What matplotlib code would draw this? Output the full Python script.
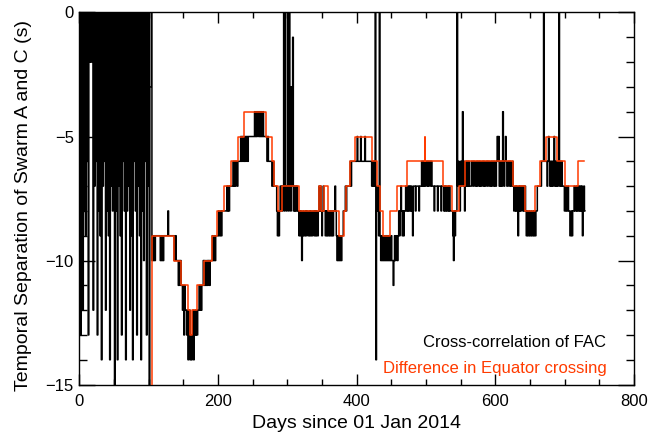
import numpy as np
import matplotlib
matplotlib.use("Agg")
import matplotlib.pyplot as plt
from matplotlib.ticker import MultipleLocator

plt.rcParams['font.family'] = ['Liberation Sans', 'DejaVu Sans']

# ---------------- data ----------------
# Difference in Equator crossing: run-length (start day, level), ends at day 728
orange_start = [104, 105, 137, 146, 156, 160, 163, 170, 179, 191,
                199, 209, 219, 228, 237, 269, 278, 281, 286, 292,
                316, 345, 348, 353, 358, 374, 381, 385, 390, 397,
                422, 429, 434, 438, 448, 458, 472, 498, 499, 525,
                537, 547, 556, 626, 643, 657, 665, 673, 689, 700, 719]
orange_level = [-16, -9, -10, -11, -12, -13, -12, -11, -10, -9,
                -8, -7, -6, -5, -4, -5, -6, -7, -8, -7,
                -8, -7, -8, -7, -8, -9, -8, -7, -6, -5,
                -6, -7, -8, -9, -8, -7, -6, -5, -6, -7,
                -8, -7, -6, -7, -8, -7, -6, -5, -6, -7, -6]
orange_end = 728

# Cross-correlation of FAC: daily values, in segments (start day, values)
blk_000 = [-3, 2, -13, -8, 2, -12, 2, -8, 2, -9,
           2, -6, 2, -13, 2, -2, 2, -2, -2, 2,
           -12, 2, -7, 2, -6, 2, -13, 2, -8, 2,
           -9, 2, -14, 2, -7, 2, -6, 2, -12, 2,
           -8, 2, -9, 2, -14, 2, -7, 2, -8, 2,
           -5, -17, 2, -8, 2, -14, 2, -7, 2, -9,
           2, -13, 2, -6, 2, -8, 2, -14, 2, -8,
           2, -7, 2, -12, 2, -9, 2, -14, 2, -6,
           2, -8, 2, -13, 2, -7, 2, -9, 2, -14,
           2, -8, 2, -10, 2, -6, 2, -13, 2, -7,
           2, -17, -3, -3, 2]
blk_105 = [-10, -9, -10, -9, -10, -9, -9, -9, -9, -9, -9, -9, -10, -10, -9, -10,
           -10, -9, -9, -9, -9, -9, -9, -8, -9, -9, -9, -9, -9, -9, -9, -9]
blk_137 = [-10, -10, -9, -10, -10, -10, -11, -10, -11, -10, -11, -11,
           -12, -11, -13, -11, -12, -12, -13, -12, -14, -13, -12, -14,
           -13, -14, -13, -12, -14, -13, -12, -13, -12, -13, -12, -12,
           -11, -12, -11, -12, -11]
blk_178 = [-11, -10, -11, -10, -11, -11, -10, -11, -10, -10, -11, -10,
           -10, -10, -9, -10, -10, -9, -10, -9, -9, -9,
           -9, -8, -9, -9, -8, -9, -8, -8, -8, -8, -8, -8,
           -8, -7, -8, -7, -8, -7, -7, -7]
blk_220 = [-7, -7, -6, -7, -6, -7, -6, -6, -7, -6, -6, -6, -6, -5, -6, -5,
           -6, -5, -6, -5, -6, -5, -5, -6, -5, -5, -5]
blk_247 = [-5, -5, -5, -5, -5, -5, -4, -5, -4, -5, -4, -4, -5, -4, -5, -4,
           -5, -5, -4, -5, -5, -5, -5]
blk_270 = [-5, -6, -5, -6, -6, -6, -6, -6, -7, -7, -6, -7, -7, -7, -7,
           -8, -9, -8, -9, -8, -7, -8]
blk_292 = [-7, -8, -7, 2, -8, 2, -7, -8, -7, 2, -8, 2, -3, -8, -3, -7, -1,
           -8, -7, -8, -7, -8, -7, -8, -8]
blk_317 = [-9, -8, -9, -8, -10, -9, -8, -9, -9, -8, -9, -8, -8, -9, -9, -8,
           -9, -8, -9, -9, -8, -8, -9, -8, -9, -8, -9, -9, -8]
blk_346 = [-7, -8, -7, -8, -9, -8, -7, -8]
blk_354 = [-8, -9, -8, -9, -8, -9, -9, -8, -9, -8, -9, -8, -9, -8, -8, -7, -8]
blk_371 = [-9, -10, -9, -10, -10, -9, -10, -10, -9, -9, -8]
blk_382 = [-8, -8, -7, -8, -7, -7, -7, -7]
blk_390 = [-7, -6, -7, -6, -6, -6, -6]
blk_397 = [-6, -6, -6, -6, -5, -6, -6, -6, -6, -5, -6, -6, -6, -6, -6, -5,
           -6, -6, -6, -6, -6, -6, -6, -6, -6, -7, -6, -7, -6]
blk_426 = [-7, 2, -14, -8, -7, -8, -9, 2]
blk_434 = [-9, -10, -9, -10, -9, -10, -10, -9, -10, -9, -10, -9, -10, -9,
           -10, -10, -9, -10, -10, -11, -10, -9, -10, -9, -9, -10, -9]
blk_461 = [-8, -9, -8, -7, -8, -9, -8, -9, -8, -8,
           -7, -8, -7, -8, -7, -8, -7, -8, -7, -8, -9]
blk_482 = [-7, -7, -7, -8, -7, -7, -7, -7, -8, -7, -7, -7, -6, -7]
blk_496 = [-6, -7, -6, -7, -6, -6, -7, -6, -7, -6, -6, -7, -6, -7, -7]
blk_511 = [-7, -8, -7, -7, -7, -7, -8, -7, -7, -7, -7, -8, -7, -7, -7]
blk_526 = [-8, -7, -8, -7, -8, -8, -7, -8, -7, -8, -8, -8]
blk_538 = [-8, -9, -10, -8, -9, -8, -8, 2]
blk_546 = [-7, -6, -7, -8, -6, -7, -6, -4, -7, -6, -8, -7, -6, -7, -6, -7, -6, -7]
blk_564 = [-7, -7, -6, -6, -7, -6, -6, -7, -7, -6, -7, -6, -6, -7, -6, -7,
           -7, -6, -6, -7, -6, -7, -7, -6, -6, -7, -6, -6, -7, -7, -6, -7,
           -6, -6, -7, -6, -7, -7, -6]
blk_603 = [-5, -6, -5, -7, -6, -7, -6, -7, -4, -6, -7, -6, -5, -6, -7, -7,
           -6, -6, -7, -6, -7, -7, -6, -7]
blk_627 = [-8, -8, -7, -8, -7, -8, -9, -7, -8, -7, -8, -7, -7, -8, -7, -8, -7]
blk_644 = [-8, -9, -8, -9, -9, -8, -9, -9, -8, -9, -9, -8, -9, -8, -9, -8, -8]
blk_661 = [-7, -7, -7, -7, -7, -7, -6, -6, -6, 2, -6, -6, -6]
blk_674 = [-6, -7, -6, -5, -6, -7, -6, -7, -6, -7, -6, -5, -7, -6, -7, -6,
           -7, -6, 2, -7, -6, -7, -6]
blk_697 = [-7, -7, -7, -8, -8, -7, -8, -8, -7, -8, -8, -9, -9, -8, -9, -8,
           -8, -7, -8, -8, -7, -8, -7, -8, -7, -8, -7, -8, -7, -9, -8, -7, -8]

black_segments = [(0, blk_000), (105, blk_105), (137, blk_137), (178, blk_178),
                  (220, blk_220), (247, blk_247), (270, blk_270), (292, blk_292),
                  (317, blk_317), (346, blk_346), (354, blk_354), (371, blk_371),
                  (382, blk_382), (390, blk_390), (397, blk_397), (426, blk_426),
                  (434, blk_434), (461, blk_461), (482, blk_482), (496, blk_496),
                  (511, blk_511), (526, blk_526), (538, blk_538), (546, blk_546),
                  (564, blk_564), (603, blk_603), (627, blk_627), (644, blk_644),
                  (661, blk_661), (674, blk_674), (697, blk_697)]

label_black = "Cross-correlation of FAC"
label_orange = "Difference in Equator crossing"
xlabel = "Days since 01 Jan 2014"
ylabel = "Temporal Separation of Swarm A and C (s)"

# ---------------- build ----------------
bx, by = [], []
for start, vals in black_segments:
    bx.extend(start + np.arange(len(vals)))
    by.extend(vals)
bx = np.array(bx); by = np.array(by)
order = np.argsort(bx, kind='stable')
bx, by = bx[order], by[order]

ox = np.array(orange_start + [orange_end])
oy = np.array(orange_level + [orange_level[-1]])

ORANGE = '#FF3B00'

fig = plt.figure(figsize=(6.5, 4.4), dpi=100)
ax = fig.add_axes([0.1223, 0.126, 0.8531, 0.8456])

ax.plot(bx, by, color='black', lw=1.1, drawstyle='steps-mid', zorder=2)
ax.plot(ox, oy, color=ORANGE, lw=1.1, drawstyle='steps-post', zorder=3)

ax.set_xlim(0, 800)
ax.set_ylim(-15, 0)
ax.xaxis.set_major_locator(MultipleLocator(200))
ax.xaxis.set_minor_locator(MultipleLocator(50))
ax.yaxis.set_major_locator(MultipleLocator(5))
ax.yaxis.set_minor_locator(MultipleLocator(1))
ax.tick_params(axis='both', which='both', direction='in', top=True, right=True,
               width=1.0, labelsize=12)
ax.tick_params(axis='x', which='major', length=8, pad=7)
ax.tick_params(axis='x', which='minor', length=4.3)
ax.tick_params(axis='y', which='major', length=11.5, pad=4)
ax.tick_params(axis='y', which='minor', length=5.8)
for s in ax.spines.values():
    s.set_linewidth(1.0)

ax.set_xlabel(xlabel, fontsize=14, labelpad=4)
ax.set_ylabel(ylabel, fontsize=14, labelpad=2)
ax.yaxis.set_label_coords(-0.085, 0.48)

ax.text(760, -13.29, label_black, color='black', fontsize=12, ha='right', va='center')
ax.text(760, -14.37, label_orange, color=ORANGE, fontsize=12, ha='right', va='center')

fig.savefig('out.png', dpi=100)
